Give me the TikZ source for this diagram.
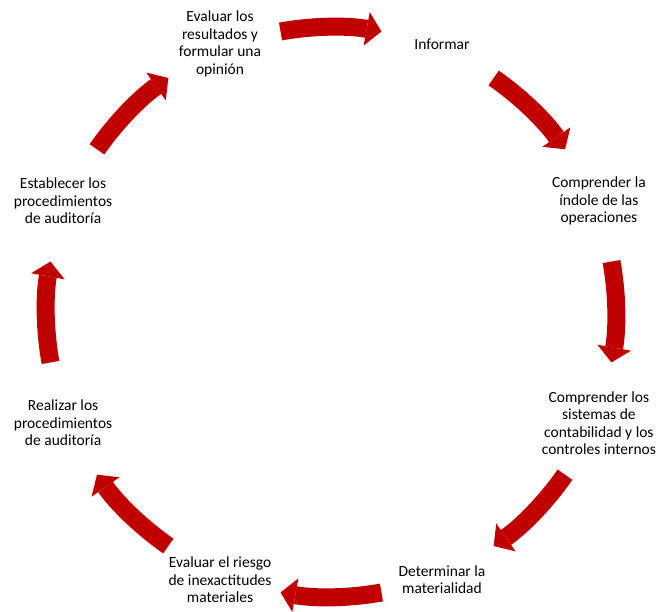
\documentclass[tikz,border=0pt]{standalone}
\usepackage{fontspec}
\setmainfont{Carlito}
\usetikzlibrary{arrows.meta}
\definecolor{cyclered}{RGB}{192,0,0}

\tikzset{
  stage/.style={align=center, text=black,
    font=\fontsize{15.5}{17.5}\selectfont},
  cyclearrow/.style={draw=cyclered, line width=18pt,
    -{Triangle[width=34pt,length=15pt,line width=0pt]}}
}

\begin{document}
\begin{tikzpicture}
    \useasboundingbox (-331pt,-299pt) rectangle (328pt,312pt);
    % steps of the cycle
    \foreach \ang/\name/\txt in {
        112.5/n1/{Evaluar los\\resultados y\\formular una\\opinión},
        67.5/n2/{Informar},
        22.5/n3/{Comprender la\\índole de las\\operaciones},
        -22.5/n4/{Comprender los\\sistemas de\\contabilidad y los\\controles internos},
        -67.5/n5/{Determinar la\\materialidad},
        -112.5/n6/{Evaluar el riesgo\\de inexactitudes\\materiales},
        -157.5/n7/{Realizar los\\procedimientos\\de auditoría},
        157.5/n8/{Establecer los\\procedimientos\\de auditoría}} {
        \node[stage] (\name) at (\ang:290pt) {\txt};
    }
    % arrows between the steps, clockwise
    \foreach \ang/\name in {90/a1,45/a2,0/a3,-45/a4,-90/a5,-135/a6,-180/a7,-225/a8} {
        \coordinate (\name) at (\ang+10.2:285pt);
        \draw[cyclearrow] (\name)
            arc[start angle=\ang+10.2, end angle=\ang-10.2, radius=285pt];
    }
\end{tikzpicture}
\end{document}
